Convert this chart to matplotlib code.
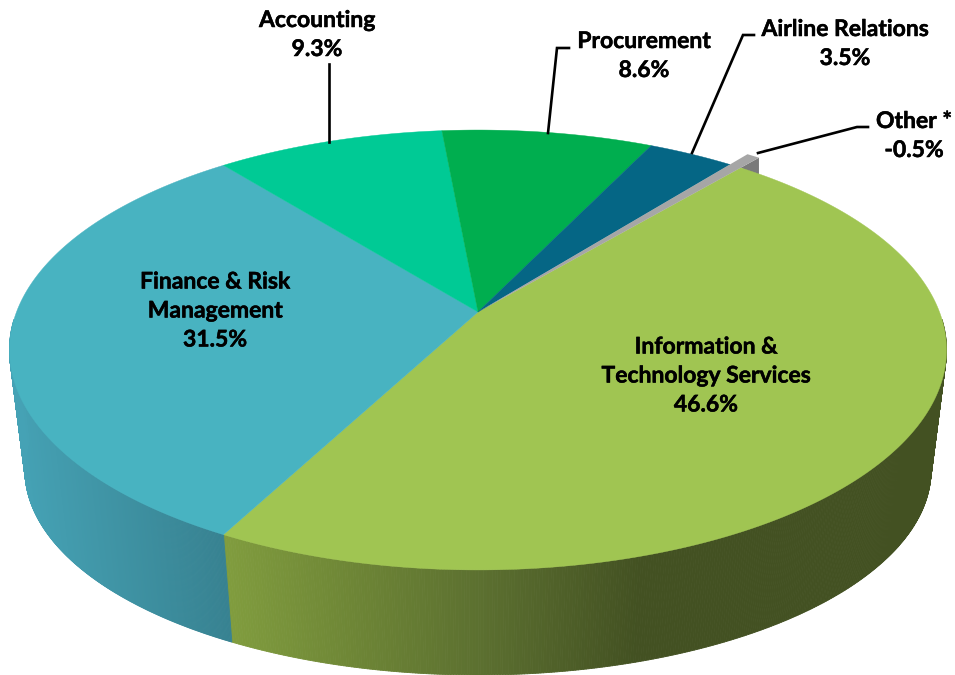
import numpy as np
import matplotlib
matplotlib.use("Agg")
import matplotlib.pyplot as plt
import matplotlib.patheffects as pe
from matplotlib.collections import PolyCollection

# Data
categories = ["Information &\nTechnology Services", "Finance & Risk\nManagement", "Accounting",
              "Procurement", "Airline Relations", "Other *"]
values = [46.6, 31.5, 9.3, 8.6, 3.5, -0.5]
top_colors = ["#A0C552", "#48B3C1", "#00CA95", "#00AE4F", "#056685", "#A6A6A6"]

# Pixel geometry of the projected pie
CX, CY = 478.0, 312.0
A, B, K = 461.5, 213.4, 0.1727
START = 40.1  # clockwise from "up"
SCALE_LOW, ELL_Y, LOW_Y, RY_RATIO = 0.967, 350.0, 470.0, 0.932
OTHER_RADIUS = 1.08
SIDE_MIN, SIDE_MAX = 92.0, 268.0


def project(theta_deg, r=1.0):
    t = np.radians(theta_deg)
    u, v = r * np.sin(t), r * np.cos(t)
    d = 1 + K * v
    return CX + A * u / d, CY - B * v / d


def lower(x, y):
    return CX + SCALE_LOW * (x - CX), LOW_Y + (y - ELL_Y) * RY_RATIO


def lerp_color(x, xs, cols):
    rgb = np.array([matplotlib.colors.to_rgb(c) for c in cols])
    return tuple(np.interp(x, xs, rgb[:, i]) for i in range(3))


side_shades = {
    0: ([228, 350, 480, 640, 950], ["#809C3E", "#6E8636", "#5C7030", "#435122", "#435122"]),
    1: ([10, 100, 235], ["#45A2B5", "#4095A6", "#36808F"]),
}

fig = plt.figure(figsize=(9.55, 6.75), dpi=100)
ax = fig.add_axes([0, 0, 1, 1])
ax.set_xlim(0, 955)
ax.set_ylim(675, 0)
ax.axis("off")

mags = np.abs(values)
spans = 360 * mags / mags.sum()
edges = START + np.concatenate([[0], np.cumsum(spans)])

# Sides: only the part of the rim that faces the viewer
for i in side_shades:
    th = np.linspace(max(edges[i], SIDE_MIN), min(edges[i + 1], SIDE_MAX), 400)
    xs, ys = project(th)
    xl, yl = lower(xs, ys)
    polys, cols = [], []
    for j in range(len(th) - 1):
        polys.append([(xs[j], ys[j]), (xs[j + 1], ys[j + 1]), (xl[j + 1], yl[j + 1]), (xl[j], yl[j])])
        cols.append(lerp_color(0.5 * (xs[j] + xs[j + 1]), *side_shades[i]))
    ax.add_collection(PolyCollection(polys, facecolors=cols, edgecolors=cols, linewidths=0.6, zorder=1))

# Small raised "Other" slice: its side sits behind the top faces
o1, o2 = edges[-2], edges[-1]
tip_x, tip_y = project(o2 + 360 if o2 < 0 else o2, OTHER_RADIUS)
low_x, low_y = project(edges[0], 1.0)
ax.fill([low_x, tip_x, tip_x], [low_y, tip_y, tip_y + 18], color="#7A7A7A", lw=0, zorder=1.5)

# Top faces
for i, col in enumerate(top_colors[:-1]):
    th = np.linspace(edges[i], edges[i + 1], 300)
    xs, ys = project(th)
    ax.fill(np.r_[CX, xs], np.r_[CY, ys], color=col, lw=0.3, zorder=2)

th = np.linspace(o1, o2, 20)
xs, ys = project(th, OTHER_RADIUS)
ax.fill(np.r_[CX, xs], np.r_[CY, ys], color=top_colors[-1], lw=0, zorder=4)

# Leader lines
leaders = [
    ([329, 329], [64, 142]),
    ([569, 557, 548], [48, 48, 133]),
    ([754, 743, 692], [35, 35, 153]),
    ([868, 857, 758], [127, 127, 153]),
]
for lx, ly in leaders:
    ax.plot(lx, ly, color="black", lw=1.9, solid_joinstyle="miter", zorder=5)

# Labels
label_pos = [(706, 376), (215, 311), (317, 35), (644, 56), (845, 44), (914, 136)]
for name, v, (x, y) in zip(categories, values, label_pos):
    t = ax.text(x, y, f"{name}\n{v:.1f}%", ha="center", va="center", family="Lato", weight="bold",
                fontsize=16.5, linespacing=1.47, color="black", zorder=6)
    t.set_path_effects([pe.withStroke(linewidth=0.35, foreground="black")])

fig.savefig("out.png", dpi=100)
